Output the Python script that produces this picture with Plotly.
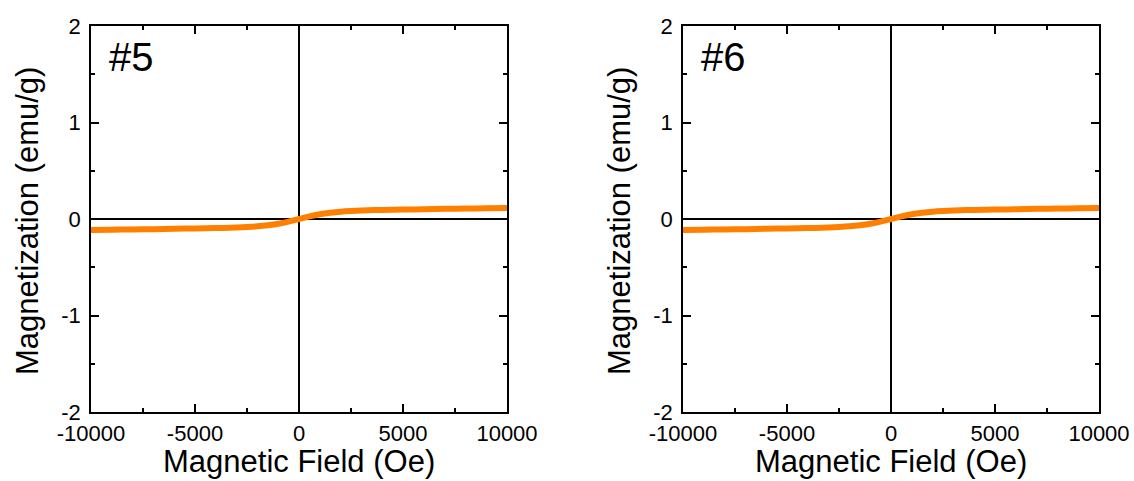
import plotly.graph_objects as go

field_oe = [-10000, -9000, -8000, -7000, -6000, -5000, -4000, -3000, -2500, -2000,
            -1500, -1000, -500, 0, 500, 1000, 1500, 2000, 2500, 3000,
            4000, 5000, 6000, 7000, 8000, 9000, 10000]
mag_s5 = [-0.115, -0.112, -0.108, -0.105, -0.101, -0.098, -0.094, -0.088, -0.083, -0.076,
          -0.065, -0.050, -0.028, 0.0, 0.028, 0.050, 0.065, 0.076, 0.083, 0.088,
          0.094, 0.098, 0.101, 0.105, 0.108, 0.112, 0.115]
mag_s6 = [-0.115, -0.112, -0.108, -0.105, -0.101, -0.098, -0.094, -0.088, -0.083, -0.076,
          -0.065, -0.050, -0.028, 0.0, 0.028, 0.050, 0.065, 0.076, 0.083, 0.088,
          0.094, 0.098, 0.101, 0.105, 0.108, 0.112, 0.115]
panel_labels = ["#5", "#6"]
x_title = "Magnetic Field (Oe)"
y_title = "Magnetization (emu/g)"
x_ticks = [-10000, -5000, 0, 5000, 10000]
x_ticktext = ["-10000", "-5000", "0", "5000", "10000"]
y_ticks = [-2, -1, 0, 1, 2]
y_ticktext = ["-2", "-1", "0", "1", "2"]

FONT = "Liberation Sans, Arial, sans-serif"
W, H = 1134, 481

fig = go.Figure()
fig.add_trace(go.Scatter(x=field_oe, y=mag_s5, mode="lines", line=dict(color="#FF8000", width=6, shape="spline"),
                         xaxis="x", yaxis="y", showlegend=False))
fig.add_trace(go.Scatter(x=field_oe, y=mag_s6, mode="lines", line=dict(color="#FF8000", width=6, shape="spline"),
                         xaxis="x2", yaxis="y2", showlegend=False))

panels = [(91, 507), (683, 1099)]
top_px, bot_px = 26, 412
ydom = [1 - bot_px / H, 1 - top_px / H]

def xax(dom, anchor):
    return dict(domain=dom, anchor=anchor, range=[-10000, 10000], tickvals=x_ticks, ticktext=x_ticktext,
                ticks="inside", ticklen=8, tickwidth=1.5, tickcolor="black",
                minor=dict(dtick=2500, ticks="inside", ticklen=4, tickwidth=1.5, tickcolor="black"),
                showline=True, linecolor="black", linewidth=1.5, mirror="ticks",
                showgrid=False, zeroline=True, zerolinecolor="black", zerolinewidth=1.5,
                automargin=False,
                tickfont=dict(family=FONT, size=22, color="black"), ticklabelstandoff=1)

def yax(dom, anchor):
    return dict(domain=dom, anchor=anchor, range=[-2, 2], tickvals=y_ticks, ticktext=y_ticktext,
                ticks="inside", ticklen=8, tickwidth=1.5, tickcolor="black",
                minor=dict(dtick=0.5, ticks="inside", ticklen=4, tickwidth=1.5, tickcolor="black"),
                showline=True, linecolor="black", linewidth=1.5, mirror="ticks",
                showgrid=False, zeroline=True, zerolinecolor="black", zerolinewidth=1.5,
                automargin=False,
                tickfont=dict(family=FONT, size=22, color="black"), ticklabelstandoff=4)

annotations = []
for i, (l, r) in enumerate(panels):
    cx = (l + r) / 2 / W
    annotations.append(dict(text=x_title, x=cx, y=1 - 461 / H, xref="paper", yref="paper",
                            xanchor="center", yanchor="middle", showarrow=False,
                            font=dict(family=FONT, size=31, color="black")))
    annotations.append(dict(text=y_title, x=(l - 63) / W, y=1 - 221 / H, xref="paper", yref="paper",
                            xanchor="center", yanchor="middle", textangle=-90, showarrow=False,
                            font=dict(family=FONT, size=31, color="black")))
    annotations.append(dict(text=panel_labels[i], x=(l + 16) / W, y=1 - 57 / H, xref="paper", yref="paper",
                            xanchor="left", yanchor="middle", showarrow=False,
                            font=dict(family=FONT, size=40, color="black")))

fig.update_layout(
    width=W, height=H, margin=dict(l=0, r=0, t=0, b=0, pad=0, autoexpand=False),
    paper_bgcolor="white", plot_bgcolor="white",
    xaxis=xax([panels[0][0] / W, panels[0][1] / W], "y"),
    yaxis=yax(ydom, "x"),
    xaxis2=xax([panels[1][0] / W, panels[1][1] / W], "y2"),
    yaxis2=yax(ydom, "x2"),
    annotations=annotations,
)

fig.write_html("out.html")
